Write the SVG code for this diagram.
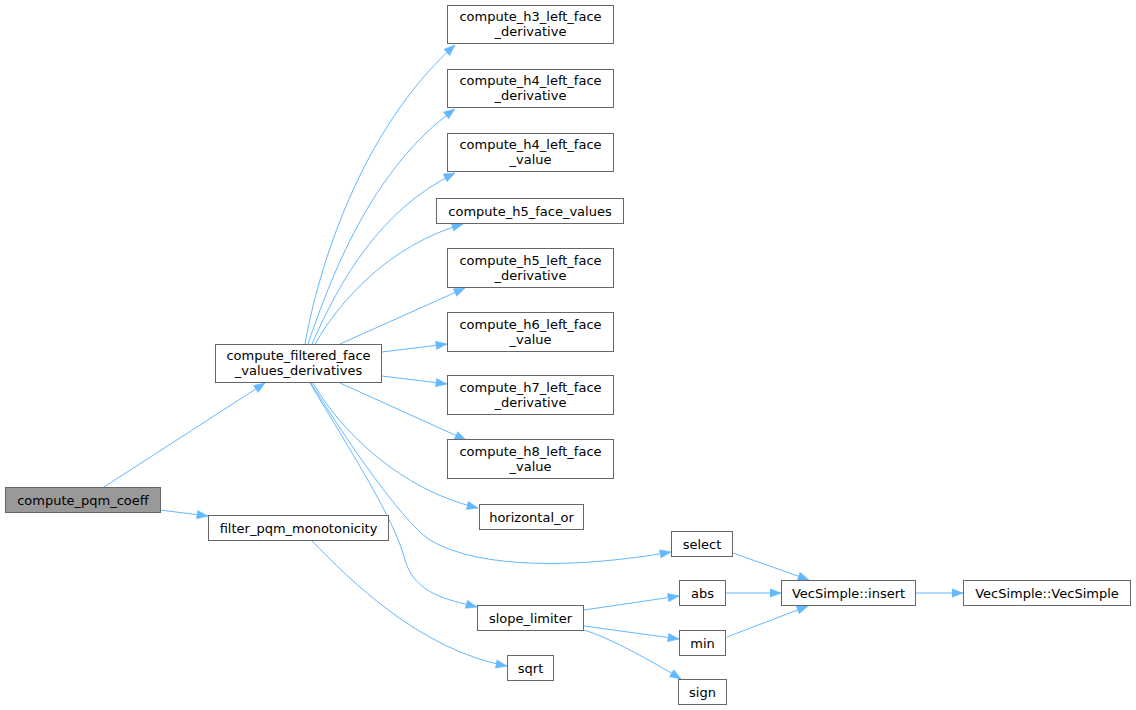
<svg xmlns="http://www.w3.org/2000/svg" width="1136" height="710" viewBox="0 0 1136 710">
<defs>
<marker id="arr" markerUnits="userSpaceOnUse" markerWidth="12" markerHeight="10" viewBox="0 0 12 10" refX="11.5" refY="5" orient="auto">
<path d="M0.5,0.8 L11.5,5 L0.5,9.2 z" fill="#63b8ff" stroke="#63b8ff" stroke-width="0.5"/>
</marker>
</defs>
<style>
.n rect{fill:#ffffff;stroke:#666666;stroke-width:1}
.n.root rect{fill:#999999}
.n text{font-family:"DejaVu Sans",sans-serif;font-size:13px;fill:#000000;text-anchor:middle}
.e path{fill:none;stroke:#63b8ff;stroke-width:1;marker-end:url(#arr)}
</style>
<rect width="1136" height="710" fill="#ffffff"/>
<g id="edges" class="e">
<path d="M104,487 L265,383"/>
<path d="M160,510 L208,516"/>
<path d="M305,344 C318,270 360,130 455,45"/>
<path d="M308,344 C330,280 370,170 455,109"/>
<path d="M312,344 C340,280 380,210 455,173"/>
<path d="M315,344 C340,300 390,245 463,224"/>
<path d="M340,344 L465,288"/>
<path d="M382,352 L447,344"/>
<path d="M382,376 L447,384"/>
<path d="M340,383 L466,440"/>
<path d="M313,383 C340,430 400,490 478,508"/>
<path d="M311,383 C340,430 400,520 430,540 C480,570 580,568 671,552"/>
<path d="M310,383 C350,450 395,520 405,560 C415,595 450,600 477,607"/>
<path d="M312,541 C350,580 420,650 507,666"/>
<path d="M584,610 L679,596"/>
<path d="M584,626 L679,639"/>
<path d="M584,630 C610,638 650,660 681,679"/>
<path d="M733,553 L809,580"/>
<path d="M726,593 L781,593"/>
<path d="M727,637 L808,606"/>
<path d="M916,593 L963,593"/>
</g>
<g id="compute_pqm_coeff" class="n root"><rect x="5.5" y="487.5" width="155" height="25"/><text x="83" y="504.5">compute_pqm_coeff</text></g>
<g id="compute_filtered_face_values_derivatives" class="n"><rect x="215.5" y="344.5" width="166" height="38"/><text x="298.5" y="360">compute_filtered_face</text><text x="298.5" y="375">_values_derivatives</text></g>
<g id="filter_pqm_monotonicity" class="n"><rect x="208.5" y="515.5" width="180" height="25"/><text x="298.5" y="532.5">filter_pqm_monotonicity</text></g>
<g id="compute_h3_left_face_derivative" class="n"><rect x="447.5" y="5.5" width="166" height="38"/><text x="530.5" y="21">compute_h3_left_face</text><text x="530.5" y="36">_derivative</text></g>
<g id="compute_h4_left_face_derivative" class="n"><rect x="447.5" y="69.5" width="166" height="38"/><text x="530.5" y="85">compute_h4_left_face</text><text x="530.5" y="100">_derivative</text></g>
<g id="compute_h4_left_face_value" class="n"><rect x="447.5" y="133.5" width="166" height="38"/><text x="530.5" y="149">compute_h4_left_face</text><text x="530.5" y="164">_value</text></g>
<g id="compute_h5_face_values" class="n"><rect x="436.5" y="198.5" width="187" height="25"/><text x="530" y="215.5">compute_h5_face_values</text></g>
<g id="compute_h5_left_face_derivative" class="n"><rect x="447.5" y="248.5" width="166" height="39"/><text x="530.5" y="264.5">compute_h5_left_face</text><text x="530.5" y="279.5">_derivative</text></g>
<g id="compute_h6_left_face_value" class="n"><rect x="447.5" y="312.5" width="166" height="39"/><text x="530.5" y="328.5">compute_h6_left_face</text><text x="530.5" y="343.5">_value</text></g>
<g id="compute_h7_left_face_derivative" class="n"><rect x="447.5" y="375.5" width="166" height="39"/><text x="530.5" y="391.5">compute_h7_left_face</text><text x="530.5" y="406.5">_derivative</text></g>
<g id="compute_h8_left_face_value" class="n"><rect x="447.5" y="439.5" width="166" height="39"/><text x="530.5" y="455.5">compute_h8_left_face</text><text x="530.5" y="470.5">_value</text></g>
<g id="horizontal_or" class="n"><rect x="479.5" y="504.5" width="104" height="25"/><text x="531.5" y="521.5">horizontal_or</text></g>
<g id="select" class="n"><rect x="671.5" y="531.5" width="61" height="25"/><text x="702" y="548.5">select</text></g>
<g id="slope_limiter" class="n"><rect x="477.5" y="605.5" width="106" height="25"/><text x="530.5" y="622.5">slope_limiter</text></g>
<g id="sqrt" class="n"><rect x="507.5" y="655.5" width="46" height="25"/><text x="530.5" y="672.5">sqrt</text></g>
<g id="abs" class="n"><rect x="679.5" y="580.5" width="46" height="25"/><text x="702.5" y="597.5">abs</text></g>
<g id="min" class="n"><rect x="679.5" y="630.5" width="46" height="25"/><text x="702.5" y="647.5">min</text></g>
<g id="sign" class="n"><rect x="678.5" y="679.5" width="48" height="25"/><text x="702.5" y="696.5">sign</text></g>
<g id="VecSimple_insert" class="n"><rect x="781.5" y="580.5" width="134" height="25"/><text x="848.5" y="597.5">VecSimple::insert</text></g>
<g id="VecSimple_VecSimple" class="n"><rect x="963.5" y="580.5" width="167" height="25"/><text x="1047" y="597.5">VecSimple::VecSimple</text></g>
</svg>
